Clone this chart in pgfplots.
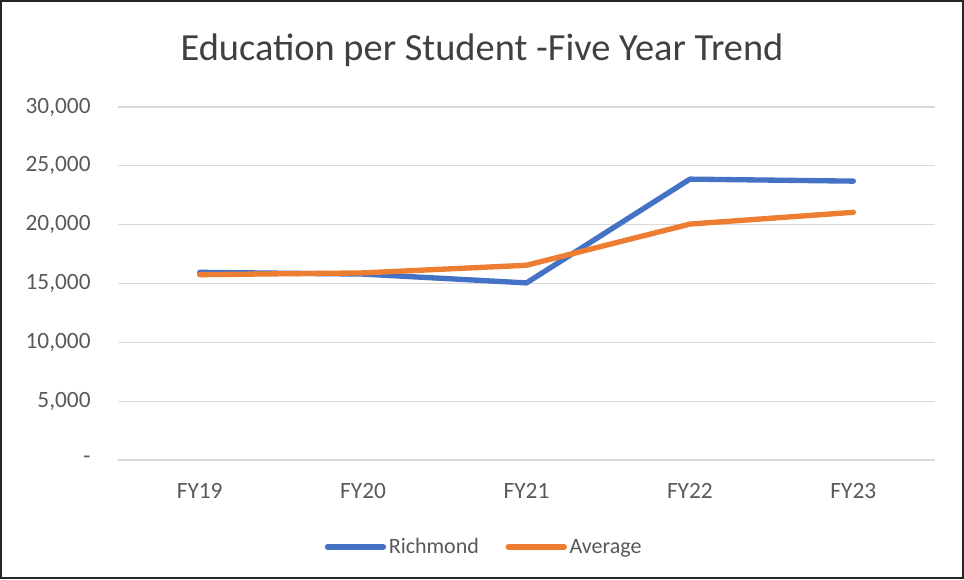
\documentclass[border=0pt]{standalone}
\usepackage{pgfplots}
\pgfplotsset{compat=1.18}
\usepackage{fontspec}
\setmainfont{Carlito}
\definecolor{rblue}{HTML}{4472C4}
\definecolor{aorange}{HTML}{ED7D31}
\definecolor{gridc}{HTML}{D9D9D9}
\definecolor{tickc}{HTML}{595959}
\definecolor{titlec}{HTML}{404040}
\begin{document}
\begin{tikzpicture}
\useasboundingbox (-88.5pt,-89.25pt) rectangle (634.5pt,345pt);
\draw[black!85, line width=1.2pt] (-87.6pt,-88.4pt) rectangle (633.6pt,344.1pt);
\begin{axis}[
  at={(0,0)}, anchor=south west,
  scale only axis, width=612.75pt, height=264.75pt,
  xmin=-0.5, xmax=4.5, ymin=0, ymax=30000,
  scaled y ticks=false,
  xtick={0,1,2,3,4}, xticklabels={FY19,FY20,FY21,FY22,FY23},
  ytick={0,5000,10000,15000,20000,25000,30000},
  yticklabels={-,{5,000},{10,000},{15,000},{20,000},{25,000},{30,000}},
  ymajorgrids, grid style={gridc, line width=0.9pt},
  axis x line*=bottom, axis y line*=left,
  x axis line style={gridc, line width=0.9pt, -},
  y axis line style={draw=none},
  major tick length=0pt,
  tick label style={font=\fontsize{17.5}{20}\selectfont, text=tickc},
  yticklabel style={xshift=-17pt},
  xticklabel style={yshift=-14pt},
  legend columns=2,
  legend style={at={(0.4486,-0.2465)}, anchor=center, draw=none,
    font=\fontsize{16.5}{19}\selectfont, text=tickc,
    /tikz/every even column/.append style={column sep=18pt}},
  legend image code/.code={\draw[#1, line cap=round] (0pt,0pt) -- (42pt,0pt);},
]
\addplot[rblue, line width=4pt, line join=round, line cap=round] coordinates {(0,15950) (1,15800) (2,15050) (3,23870) (4,23700)};
\addlegendentry{Richmond}
\addplot[aorange, line width=4pt, line join=round, line cap=round] coordinates {(0,15750) (1,15900) (2,16550) (3,20050) (4,21050)};
\addlegendentry{Average}
\end{axis}
\node[text=titlec, font=\fontsize{28.8}{34}\selectfont] at (273pt,307.5pt) {Education per Student -Five Year Trend};
\end{tikzpicture}
\end{document}
